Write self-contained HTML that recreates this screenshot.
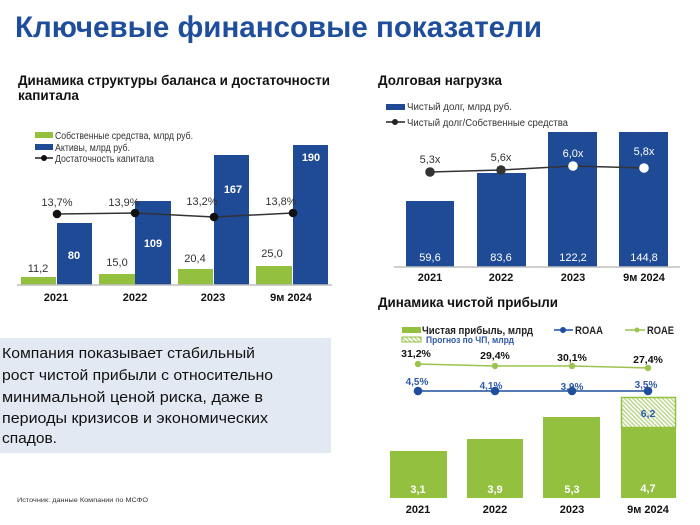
<!DOCTYPE html>
<html><head><meta charset="utf-8"><style>
html,body{margin:0;padding:0;background:#fff;}
svg{display:block;}
text{font-family:"Liberation Sans","Noto Sans CJK SC",sans-serif;}
</style></head><body>
<svg width="700" height="525" viewBox="0 0 700 525" xmlns="http://www.w3.org/2000/svg">
<defs>
<pattern id="hatch" patternUnits="userSpaceOnUse" width="3" height="3" patternTransform="rotate(-45)">
<rect width="3" height="3" fill="#ffffff"/>
<rect width="1.4" height="3" fill="#b9d58a"/>
</pattern>
</defs>
<rect width="700" height="525" fill="#fff"/>
<!-- Title -->
<text x="15" y="37" font-size="30" font-weight="bold" fill="#1f4e9c" textLength="527" lengthAdjust="spacingAndGlyphs">Ключевые финансовые показатели</text>

<!-- Subtitles -->
<text x="18" y="85" font-size="13.5" font-weight="bold" fill="#111" textLength="312" lengthAdjust="spacingAndGlyphs">Динамика структуры баланса и достаточности</text>
<text x="18" y="100" font-size="13.5" font-weight="bold" fill="#111">капитала</text>
<text x="378" y="85" font-size="13.5" font-weight="bold" fill="#111" textLength="124" lengthAdjust="spacingAndGlyphs">Долговая нагрузка</text>
<text x="378" y="307" font-size="13.5" font-weight="bold" fill="#111" textLength="180" lengthAdjust="spacingAndGlyphs">Динамика чистой прибыли</text>

<!-- LEFT CHART -->
<rect x="35" y="132" width="18" height="6" fill="#93c03f"/>
<text x="55" y="139" font-size="10" fill="#333" textLength="138" lengthAdjust="spacingAndGlyphs">Собственные средства, млрд руб.</text>
<rect x="35" y="144" width="18" height="6" fill="#1e4a96"/>
<text x="55" y="151" font-size="10" fill="#333" textLength="75" lengthAdjust="spacingAndGlyphs">Активы, млрд руб.</text>
<line x1="35" y1="158" x2="53" y2="158" stroke="#222" stroke-width="1.5"/>
<circle cx="44" cy="158" r="3" fill="#111"/>
<text x="55" y="162" font-size="10" fill="#333" textLength="99" lengthAdjust="spacingAndGlyphs">Достаточность капитала</text>

<rect x="21" y="277" width="35" height="8" fill="#93c03f"/>
<rect x="57" y="223" width="35" height="62" fill="#1e4a96"/>
<rect x="99" y="274" width="36" height="11" fill="#93c03f"/>
<rect x="135" y="201" width="36" height="84" fill="#1e4a96"/>
<rect x="178" y="269" width="35" height="16" fill="#93c03f"/>
<rect x="214" y="155" width="35" height="130" fill="#1e4a96"/>
<rect x="256" y="266" width="36" height="19" fill="#93c03f"/>
<rect x="293" y="145" width="35" height="140" fill="#1e4a96"/>
<line x1="17" y1="285" x2="332" y2="285" stroke="#bfbfbf" stroke-width="1.5"/>

<polyline points="57,214 135,213 214,217 293,213" fill="none" stroke="#333" stroke-width="1.5"/>
<circle cx="57" cy="214" r="4.3" fill="#111"/>
<circle cx="135" cy="213" r="4.3" fill="#111"/>
<circle cx="214" cy="217" r="4.3" fill="#111"/>
<circle cx="293" cy="213" r="4.3" fill="#111"/>

<g font-size="11" fill="#333" text-anchor="middle">
<text x="57" y="206">13,7%</text>
<text x="124" y="206">13,9%</text>
<text x="202" y="205">13,2%</text>
<text x="281" y="205">13,8%</text>
<text x="38" y="272">11,2</text>
<text x="117" y="266">15,0</text>
<text x="195" y="262">20,4</text>
<text x="272" y="257">25,0</text>
</g>
<g font-size="11" font-weight="bold" fill="#fff" text-anchor="middle">
<text x="74" y="259">80</text>
<text x="153" y="247">109</text>
<text x="233" y="193">167</text>
<text x="311" y="161">190</text>
</g>
<g font-size="11" font-weight="bold" fill="#111" text-anchor="middle">
<text x="56" y="301">2021</text>
<text x="135" y="301">2022</text>
<text x="213" y="301">2023</text>
<text x="291" y="301">9м 2024</text>
</g>

<!-- RIGHT TOP CHART -->
<rect x="386" y="104" width="19" height="6" fill="#1e4a96"/>
<text x="407" y="110" font-size="10" fill="#333" textLength="105" lengthAdjust="spacingAndGlyphs">Чистый долг, млрд руб.</text>
<line x1="386" y1="122" x2="405" y2="122" stroke="#222" stroke-width="1.5"/>
<circle cx="395" cy="122" r="3" fill="#222"/>
<text x="407" y="126" font-size="10" fill="#333" textLength="161" lengthAdjust="spacingAndGlyphs">Чистый долг/Собственные средства</text>

<rect x="406" y="201" width="48" height="66" fill="#1e4a96"/>
<rect x="477" y="173" width="49" height="94" fill="#1e4a96"/>
<rect x="548" y="132" width="49" height="135" fill="#1e4a96"/>
<rect x="619" y="132" width="49" height="135" fill="#1e4a96"/>
<line x1="394" y1="267" x2="680" y2="267" stroke="#bfbfbf" stroke-width="1.5"/>

<polyline points="430,172 501,170 573,166 644,168" fill="none" stroke="#333" stroke-width="1.5"/>
<circle cx="430" cy="172" r="4.8" fill="#333"/>
<circle cx="501" cy="170" r="4.8" fill="#333"/>
<circle cx="573" cy="166" r="4.8" fill="#fff"/>
<circle cx="644" cy="168" r="4.8" fill="#fff"/>

<g font-size="11" text-anchor="middle">
<text x="430" y="163" fill="#333">5,3x</text>
<text x="501" y="161" fill="#333">5,6x</text>
<text x="573" y="157" fill="#fff">6,0x</text>
<text x="644" y="155" fill="#fff">5,8x</text>
</g>
<g font-size="11" fill="#fff" text-anchor="middle">
<text x="430" y="261">59,6</text>
<text x="501" y="261">83,6</text>
<text x="573" y="261">122,2</text>
<text x="644" y="261">144,8</text>
</g>
<g font-size="11" font-weight="bold" fill="#111" text-anchor="middle">
<text x="430" y="281">2021</text>
<text x="501" y="281">2022</text>
<text x="573" y="281">2023</text>
<text x="644" y="281">9м 2024</text>
</g>

<!-- BOTTOM RIGHT CHART -->
<rect x="402" y="327" width="19" height="6" fill="#93c03f"/>
<text x="422" y="334" font-size="11" font-weight="bold" fill="#222" textLength="111" lengthAdjust="spacingAndGlyphs">Чистая прибыль, млрд</text>
<line x1="554" y1="330" x2="573" y2="330" stroke="#1f4e9c" stroke-width="1.5"/>
<circle cx="563" cy="330" r="3" fill="#1f4e9c"/>
<text x="575" y="334" font-size="11" font-weight="bold" fill="#222" textLength="28" lengthAdjust="spacingAndGlyphs">ROAA</text>
<line x1="625" y1="330" x2="645" y2="330" stroke="#9bc34f" stroke-width="1.5"/>
<circle cx="637" cy="330" r="2.5" fill="#9bc34f"/>
<text x="647" y="334" font-size="11" font-weight="bold" fill="#222" textLength="27" lengthAdjust="spacingAndGlyphs">ROAE</text>
<rect x="402" y="337" width="19" height="5" fill="url(#hatch)" stroke="#93c03f" stroke-width="1"/>
<text x="426" y="343" font-size="9.5" font-weight="bold" fill="#2f5aa8" textLength="88" lengthAdjust="spacingAndGlyphs">Прогноз по ЧП, млрд</text>

<polyline points="418,364 495,366 572,366 648,368" fill="none" stroke="#9bc34f" stroke-width="1.5"/>
<circle cx="418" cy="364" r="3.2" fill="#9bc34f"/>
<circle cx="495" cy="366" r="3.2" fill="#9bc34f"/>
<circle cx="572" cy="366" r="3.2" fill="#9bc34f"/>
<circle cx="648" cy="368" r="3.2" fill="#9bc34f"/>
<g font-size="10.5" font-weight="bold" fill="#111" text-anchor="middle">
<text x="416" y="357">31,2%</text>
<text x="495" y="359">29,4%</text>
<text x="572" y="361">30,1%</text>
<text x="648" y="363">27,4%</text>
</g>

<line x1="418" y1="391" x2="648" y2="391" stroke="#1f4e9c" stroke-width="1.5"/>
<circle cx="418" cy="391" r="4.3" fill="#1f4e9c"/>
<circle cx="495" cy="391" r="4.3" fill="#1f4e9c"/>
<circle cx="572" cy="391" r="4.3" fill="#1f4e9c"/>
<circle cx="648" cy="391" r="4.3" fill="#1f4e9c"/>
<g font-size="10" font-weight="bold" fill="#2f5aa8" text-anchor="middle">
<text x="417" y="385">4,5%</text>
<text x="491" y="389">4,1%</text>
<text x="572" y="390">3,9%</text>
<text x="646" y="388">3,5%</text>
</g>

<rect x="390" y="451" width="57" height="47" fill="#93c03f"/>
<rect x="467" y="439" width="56" height="59" fill="#93c03f"/>
<rect x="543" y="417" width="57" height="81" fill="#93c03f"/>
<rect x="621.5" y="397.5" width="54" height="30" fill="url(#hatch)" stroke="#93c03f" stroke-width="1.5"/>
<rect x="621" y="427" width="55" height="71" fill="#93c03f"/>
<text x="648" y="417" font-size="10.5" font-weight="bold" fill="#2f5aa8" text-anchor="middle">6,2</text>
<g font-size="11" font-weight="bold" fill="#fff" text-anchor="middle">
<text x="418" y="493">3,1</text>
<text x="495" y="493">3,9</text>
<text x="572" y="493">5,3</text>
<text x="648" y="492">4,7</text>
</g>
<g font-size="11" font-weight="bold" fill="#111" text-anchor="middle">
<text x="418" y="513">2021</text>
<text x="495" y="513">2022</text>
<text x="572" y="513">2023</text>
<text x="648" y="513">9м 2024</text>
</g>

<!-- TEXT BOX -->
<rect x="0" y="338" width="331" height="115" fill="#e3e9f3"/>
<g font-size="15" fill="#111">
<text x="2" y="358" textLength="253" lengthAdjust="spacingAndGlyphs">Компания показывает стабильный</text>
<text x="2" y="380" textLength="271" lengthAdjust="spacingAndGlyphs">рост чистой прибыли с относительно</text>
<text x="2" y="402" textLength="261" lengthAdjust="spacingAndGlyphs">минимальной ценой риска, даже в</text>
<text x="2" y="423" textLength="266" lengthAdjust="spacingAndGlyphs">периоды кризисов и экономических</text>
<text x="2" y="443" textLength="55" lengthAdjust="spacingAndGlyphs">спадов.</text>
</g>
<text x="17" y="502" font-size="6.5" fill="#333" textLength="131" lengthAdjust="spacingAndGlyphs">Источник: данные Компании по МСФО</text>
</svg>
</body></html>
